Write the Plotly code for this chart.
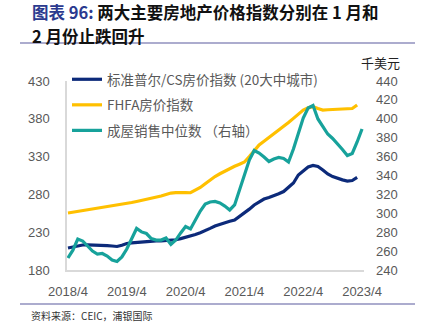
import plotly.graph_objects as go

# ---------------- data ----------------
months = [f"{2018 + (3 + i) // 12}/{(3 + i) % 12 + 1}" for i in range(61)]  # 2018/4 .. 2023/4
tick_labels = ["2018/4", "2019/4", "2020/4", "2021/4", "2022/4", "2023/4"]

sp_cs20 = [209.1, 210.5, 212.0, 213.1, 213.3, 213.2, 213.1, 212.8, 212.3, 211.7, 211.1, 212.8,
           215.0, 215.8, 216.5, 217.0, 217.5, 218.0, 218.4, 218.6, 218.8, 219.0, 220.0, 221.5,
           223.0, 225.0, 227.0, 229.2, 231.6, 235.0, 238.2, 240.5, 242.8, 244.5, 246.1, 250.5,
           255.4, 260.5, 266.0, 270.5, 273.9, 276.0, 277.9, 280.8, 283.8, 289.0, 295.1, 305.7,
           311.0, 316.2, 318.2, 316.9, 312.3, 307.0, 303.5, 301.0, 299.2, 297.7, 298.4, 302.4]

fhfa = [255.4, 256.4, 257.4, 258.4, 259.4, 260.3, 261.3, 262.4, 263.6, 264.7, 265.8, 266.9,
        268.0, 269.3, 270.6, 271.9, 273.2, 274.5, 275.9, 277.8, 279.8, 281.8, 282.4, 282.8,
        282.5, 282.2, 285.5, 289.1, 294.0, 299.0, 303.7, 307.3, 310.8, 314.3, 317.2, 320.0,
        322.9, 330.0, 337.5, 345.3, 350.2, 355.0, 359.9, 365.0, 370.0, 375.1, 380.6, 386.1,
        391.6, 394.5, 396.0, 393.5, 391.6, 392.0, 392.5, 393.0, 393.2, 393.4, 393.6, 398.3]

median_price = [252.7, 261.0, 272.8, 270.7, 265.4, 260.1, 256.9, 257.5, 254.8, 250.6, 249.0, 253.8,
                262.2, 273.9, 283.9, 280.3, 278.6, 273.3, 271.7, 271.7, 273.9, 267.0, 271.7, 279.2,
                286.0, 283.4, 292.9, 302.4, 309.8, 312.0, 312.5, 310.9, 307.7, 303.5, 308.8, 324.7,
                341.6, 356.4, 366.5, 363.8, 359.6, 354.8, 357.5, 359.1, 358.0, 354.3, 368.0, 383.9,
                400.8, 411.4, 414.1, 399.8, 391.3, 383.9, 379.2, 373.9, 367.5, 361.2, 363.3, 375.5,
                389.2]

names = ["标准普尔/CS房价指数 (20大中城市)", "FHFA房价指数", "成屋销售中位数 （右轴）"]
colors = ["#0C2A7A", "#FFC000", "#17A29B"]

# ---------------- layout helpers (pixel -> paper) ----------------
W, H = 430, 333
L, R, T, B = 67, 364, 81, 270


def px(x):
    return (x - L) / (R - L)


def py(y):
    return (B - y) / (B - T)


grey = "#595959"
tickfont = dict(family="Liberation Sans, Arial, sans-serif", size=13, color=grey)
cjk = "Noto Sans CJK SC, sans-serif"

fig = go.Figure()
fig.add_trace(go.Scatter(x=list(range(len(sp_cs20))), y=sp_cs20, name=names[0], mode="lines",
                         line=dict(color=colors[0], width=3.2), legendgroup="a", customdata=months[:len(sp_cs20)]))
fig.add_trace(go.Scatter(x=list(range(len(fhfa))), y=fhfa, name=names[1], mode="lines",
                         line=dict(color=colors[1], width=3.2), legendgroup="b", customdata=months[:len(fhfa)]))
fig.add_trace(go.Scatter(x=list(range(len(median_price))), y=median_price, name=names[2], mode="lines",
                         line=dict(color=colors[2], width=3.2), legendgroup="c", yaxis="y2",
                         customdata=months[:len(median_price)]))

fig.update_layout(
    width=W, height=H,
    margin=dict(l=L, r=W - R, t=T, b=H - B, pad=0),
    paper_bgcolor="white", plot_bgcolor="white",
    showlegend=True,
    legend=dict(x=px(67), y=py(64), xanchor="left", yanchor="top",
                bgcolor="rgba(0,0,0,0)", font=dict(family=cjk, size=13.5, color=grey),
                tracegroupgap=5, itemwidth=30),
    xaxis=dict(range=[-0.2, 60.4], tickvals=[0, 12, 24, 36, 48, 60], ticktext=tick_labels,
               showgrid=False, zeroline=False, showline=True, linecolor="#D9D9D9", linewidth=1.5,
               ticks="", tickfont=tickfont, ticklabelstandoff=9),
    yaxis=dict(range=[180, 430], tickvals=[180, 230, 280, 330, 380, 430], showgrid=False,
               zeroline=False, showline=True, linecolor="#D9D9D9", linewidth=1.5, ticks="",
               tickfont=tickfont, ticklabelstandoff=13),
    yaxis2=dict(range=[240, 440], tickvals=list(range(240, 441, 20)), overlaying="y", side="right",
                showgrid=False, zeroline=False, showline=False, ticks="", tickfont=tickfont,
                ticklabelstandoff=11),
)

# title, two lines
fig.add_annotation(xref="paper", yref="paper", x=px(30), y=py(12.2), xanchor="left", yanchor="middle",
                   showarrow=False,
                   text="<b><span style='color:#2B3A8F'>图表 96:</span> 两大主要房地产价格指数分别在 1 月和</b>",
                   font=dict(family=cjk, size=16.5, color="#111111"))
fig.add_annotation(xref="paper", yref="paper", x=px(30), y=py(36), xanchor="left", yanchor="middle",
                   showarrow=False, text="<b>2 月份止跌回升</b>",
                   font=dict(family=cjk, size=16.5, color="#111111"))
# rules
for yy in (43, 304):
    fig.add_shape(type="line", xref="paper", yref="paper", x0=px(20), x1=px(415), y0=py(yy), y1=py(yy),
                  line=dict(color="#5B5A9E", width=1.2))
# unit label
fig.add_annotation(xref="paper", yref="paper", x=px(380), y=py(62), xanchor="center", yanchor="middle",
                   showarrow=False, text="千美元", font=dict(family=cjk, size=13, color="#222222"))
# source
fig.add_annotation(xref="paper", yref="paper", x=px(29), y=py(315), xanchor="left", yanchor="middle",
                   showarrow=False, text="资料来源：CEIC，浦银国际", font=dict(family=cjk, size=10, color="#333333"))

fig.write_html("out.html")
